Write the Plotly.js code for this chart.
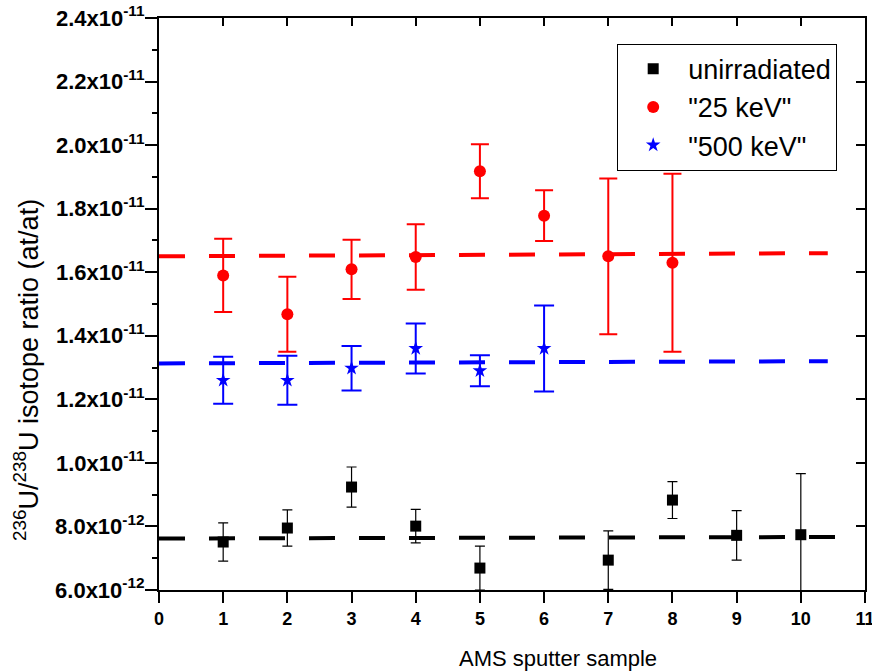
<!DOCTYPE html>
<html><head><meta charset="utf-8">
<script src="https://cdn.plot.ly/plotly-3.0.1.min.js"></script>
<style>
html,body{margin:0;padding:0;background:#fff}
#chart{width:872px;height:672px}
</style>
</head><body><div id="chart"></div>
<script>
// values in units of 1e-12
const unirrX = [1, 2, 3, 4, 5, 7, 8, 9, 10];
const unirrY = [7.51, 7.95, 9.24, 8.01, 6.69, 6.94, 8.83, 7.72, 7.74];
const unirrErr = [0.6, 0.57, 0.63, 0.53, 0.69, 0.92, 0.58, 0.78, 1.92];

const kev25X = [1, 2, 3, 4, 5, 6, 7, 8];
const kev25Y = [15.9, 14.68, 16.09, 16.48, 19.18, 17.78, 16.5, 16.3];
const kev25Err = [1.15, 1.18, 0.93, 1.03, 0.85, 0.8, 2.45, 2.8];

const kev500X = [1, 2, 3, 4, 5, 6];
const kev500Y = [12.6, 12.6, 12.98, 13.6, 12.9, 13.6];
const kev500Err = [0.74, 0.77, 0.7, 0.79, 0.49, 1.35];

const fitUnirrX = [0, 10.75];
const fitUnirrY = [7.62, 7.67];
const fit25X = [0, 10.42];
const fit25Y = [16.5, 16.6];
const fit500X = [0, 10.42];
const fit500Y = [13.13, 13.2];

const xTickVals = [0, 1, 2, 3, 4, 5, 6, 7, 8, 9, 10, 11];
const xTickText = ['0','1','2','3','4','5','6','7','8','9','10','11'];
const yTickVals = [6, 8, 10, 12, 14, 16, 18, 20, 22, 24];
const yTickText = ['6.0x10<sup>-12</sup>','8.0x10<sup>-12</sup>','1.0x10<sup>-11</sup>','1.2x10<sup>-11</sup>','1.4x10<sup>-11</sup>','1.6x10<sup>-11</sup>','1.8x10<sup>-11</sup>','2.0x10<sup>-11</sup>','2.2x10<sup>-11</sup>','2.4x10<sup>-11</sup>'];

const sc = 1e-12;
const s = a => a.map(v => v * sc);
const bold = a => a.map(t => '<b>' + t + '</b>');
const FF = 'Liberation Sans, Arial, sans-serif';

const traces = [
  {x: fitUnirrX, y: s(fitUnirrY), mode:'lines', line:{color:'#000', width:4, dash:'26px,24px'}, showlegend:false, hoverinfo:'skip'},
  {x: fit25X, y: s(fit25Y), mode:'lines', line:{color:'#ff0000', width:4, dash:'26px,24px'}, showlegend:false, hoverinfo:'skip'},
  {x: fit500X, y: s(fit500Y), mode:'lines', line:{color:'#0000ff', width:4, dash:'26px,24px'}, showlegend:false, hoverinfo:'skip'},
  {x: unirrX, y: s(unirrY), mode:'markers', name:'unirradiated',
   marker:{symbol:'square', size:11, color:'#000'},
   error_y:{type:'data', array:s(unirrErr), color:'#000', thickness:1.2, width:5}},
  {x: kev25X, y: s(kev25Y), mode:'markers', name:'"25 keV"',
   marker:{symbol:'circle', size:12, color:'#ff0000'},
   error_y:{type:'data', array:s(kev25Err), color:'#ff0000', thickness:2, width:9}},
  {x: kev500X, y: s(kev500Y), mode:'markers', name:'"500 keV"',
   marker:{symbol:'star', size:11, color:'#0000ff'},
   error_y:{type:'data', array:s(kev500Err), color:'#0000ff', thickness:2, width:10}},
  {x:[0], y:[6e-12], xaxis:'x2', yaxis:'y2', mode:'markers', marker:{opacity:0}, showlegend:false, hoverinfo:'skip'}
];

const layout = {
  width:872, height:672,
  margin:{l:159, r:7, t:18, b:82},
  paper_bgcolor:'#fff', plot_bgcolor:'#fff',
  font:{family:FF, color:'#000', size:14},
  showlegend:true,
  legend:{x:0.649, y:0.955, xanchor:'left', yanchor:'top', bgcolor:'#fff', bordercolor:'#000', borderwidth:1,
          font:{size:27, family:FF}, itemwidth:60, tracegroupgap:0},
  xaxis:{range:[0,11], tickmode:'array', tickvals:xTickVals, ticktext:bold(xTickText), ticks:'outside', ticklen:11, tickwidth:2, tickcolor:'#000',
         showline:true, linecolor:'#000', linewidth:2, showgrid:false, zeroline:false, ticklabeloverflow:'allow',
         tickfont:{size:18, family:FF}},
  yaxis:{range:[6e-12,24e-12], tickmode:'array', tickvals:s(yTickVals), ticktext:bold(yTickText),
         ticks:'outside', ticklen:12, tickwidth:2, tickcolor:'#000', ticklabeloverflow:'allow', ticklabelstandoff:-4,
         minor:{tickmode:'linear', tick0:5e-12, dtick:2e-12, ticks:'outside', ticklen:5, tickwidth:2, tickcolor:'#000', showgrid:false},
         showline:true, linecolor:'#000', linewidth:2, showgrid:false, zeroline:false,
         tickfont:{size:22, family:FF}},
  xaxis2:{range:[0,11], overlaying:'x', side:'top', tickmode:'linear', tick0:0, dtick:1, ticks:'inside', ticklen:8, tickwidth:2,
          tickcolor:'#000', showticklabels:false, showline:true, linecolor:'#000', linewidth:2, showgrid:false, zeroline:false},
  yaxis2:{range:[6e-12,24e-12], overlaying:'y', side:'right', tickmode:'linear', tick0:6e-12, dtick:2e-12, ticks:'inside', ticklen:9, tickwidth:2,
          tickcolor:'#000', showticklabels:false, showline:true, linecolor:'#000', linewidth:2, showgrid:false, zeroline:false,
          minor:{tickmode:'linear', tick0:5e-12, dtick:2e-12, ticks:'inside', ticklen:4, tickwidth:2, tickcolor:'#000', showgrid:false}},
  annotations:[
    {text:'AMS sputter sample', xref:'paper', yref:'paper', x:0.565, y:-0.119, xanchor:'center', yanchor:'middle',
     showarrow:false, font:{size:22, family:FF}},
    {text:'<sup>236</sup>U/<sup>238</sup>U isotope ratio (at/at)', xref:'paper', yref:'paper', x:-0.188, y:0.385,
     xanchor:'center', yanchor:'middle', textangle:-90, showarrow:false, font:{size:27, family:FF}}
  ]
};

Plotly.newPlot('chart', traces, layout, {displayModeBar:false, staticPlot:true});
</script></body></html>
